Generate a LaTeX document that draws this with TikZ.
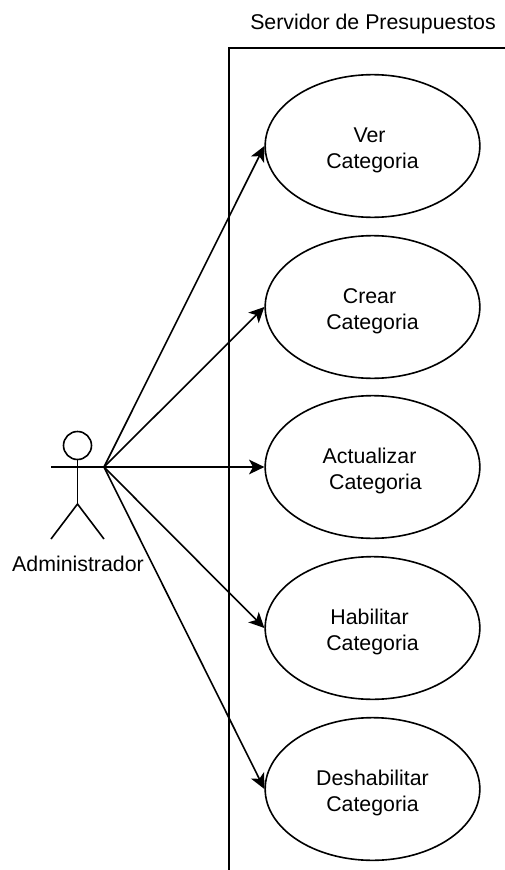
\documentclass[tikz,border=0pt]{standalone}
\usepackage{fontspec}
\setmainfont{Liberation Sans}
\usetikzlibrary{arrows.meta, shapes.geometric}
\tikzset{
  usecase/.style={draw=black, line width=1.2pt, ellipse, minimum width=161pt, minimum height=107pt, inner sep=0pt, align=center, text height=37pt, text depth=3pt, font=\fontsize{16}{20}\selectfont},
  actorline/.style={line width=1.2pt},
  assoc/.style={line width=1.2pt, -{Stealth[length=11.5pt,width=11pt,inset=3pt]}},
}
\begin{document}
\begin{tikzpicture}[x=0.75pt, y=-0.75pt]
      \useasboundingbox (0,0) rectangle (505,870);
      \fill[white] (0,0) rectangle (505,870);
      % system boundary
      \coordinate (boxBottom) at (229,870);
      \coordinate (boxTopLeft) at (229,48);
      \coordinate (boxTopRight) at (505,48);
      \draw[actorline] (boxBottom) -- (boxTopLeft) -- (boxTopRight);
      \node[font=\fontsize{16}{20}\selectfont] (title) at (373,23.5) {Servidor de Presupuestos};
      % actor
      \node[draw=black, actorline, circle, minimum size=21pt, inner sep=0pt] (head) at (77.5,445.5) {};
      \coordinate (hand) at (104,467);
      \coordinate (handLeft) at (51,467);
      \coordinate (hip) at (77.5,504);
      \coordinate (footLeft) at (51,539);
      \coordinate (footRight) at (104,539);
      \draw[actorline] (head.south) -- (hip);
      \draw[actorline] (handLeft) -- (hand);
      \draw[actorline] (footLeft) -- (hip) -- (footRight);
      \node[font=\fontsize{16}{20}\selectfont] (admin) at (78,564) {Administrador};
      % use cases
      \node[usecase] (ver) at (372.5,146) {Ver~\mbox{}\\Categoria};
      \node[usecase] (crear) at (372.5,307) {Crear~\mbox{}\\Categoria};
      \node[usecase] (actualizar) at (372.5,467) {Actualizar~\mbox{}\\~Categoria};
      \node[usecase] (habilitar) at (372.5,628) {Habilitar~\mbox{}\\Categoria};
      \node[usecase] (deshabilitar) at (372.5,789) {Deshabilitar\\Categoria};
      \foreach \target in {ver, crear, actualizar, habilitar, deshabilitar}
          \draw[assoc] (hand) -- (\target.west);
  \end{tikzpicture}
\end{document}
